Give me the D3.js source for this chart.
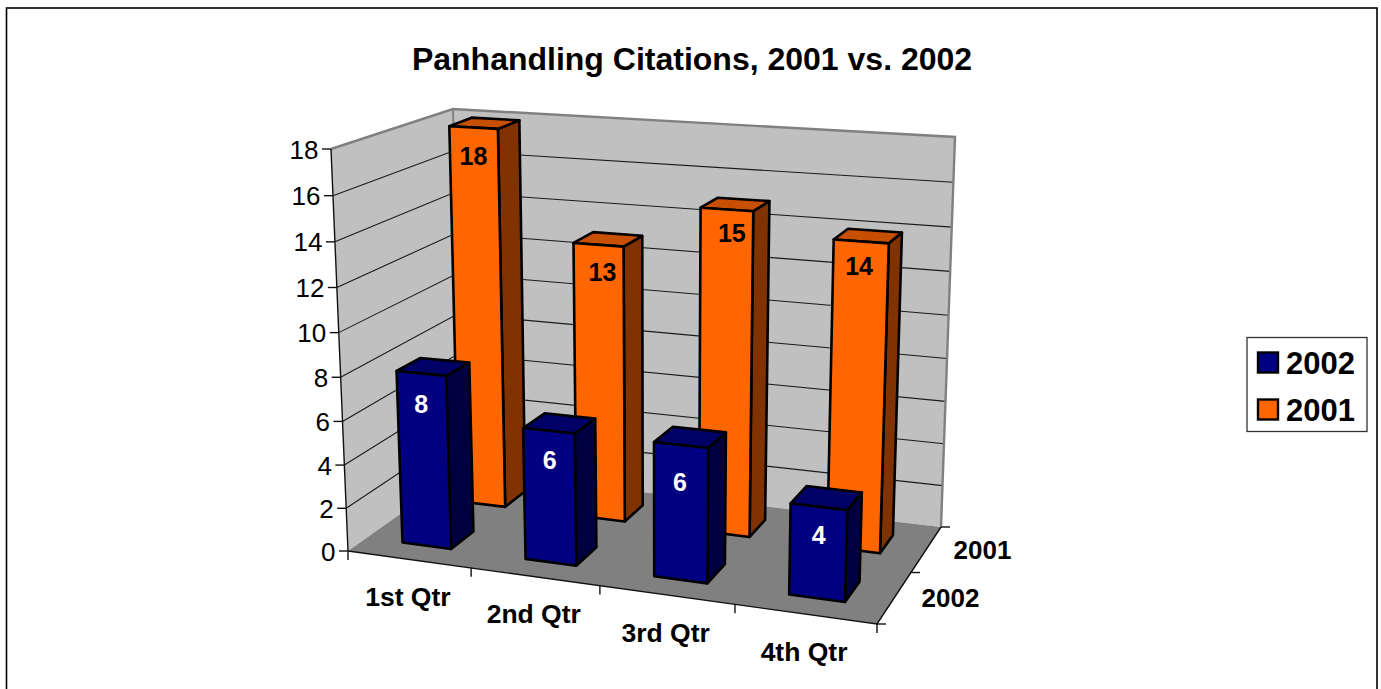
<!DOCTYPE html>
<html><head><meta charset="utf-8">
<script src="https://cdn.jsdelivr.net/npm/d3@7"></script>
<style>html,body{margin:0;padding:0;background:#fff;overflow:hidden}svg{display:block}text{font-family:"Liberation Sans",Arial,sans-serif;fill:#000}</style>
</head><body><svg id="c" width="1381" height="689"></svg>
<script>
const chartTitle = "Panhandling Citations, 2001 vs. 2002";
const categories = ["1st Qtr","2nd Qtr","3rd Qtr","4th Qtr"];
const seriesNames = ["2002","2001"];
const values2002 = [8,6,6,4];
const values2001 = [18,13,15,14];
const yTickValues = [0,2,4,6,8,10,12,14,16,18];

// Projection of the chart box: anchors
const floorAnchors = [[0,0,348,551],[1,0,877,624],[1,1,941,527],[0,1,461,471]];
const topAnchors = [[0,0,331,149],[0,1,453,109],[1,1,955,137]];
// Label placement tweaks (dx,dy) per series and category
const labelNudge = {"2002":[[0,3],[1,1],[-1,9],[0,0]],"2001":[[0,2],[4,1],[5,-2],[-2,-1]]};

function solve(A,b){
  const n=A[0].length, M=A.map((r,i)=>[...r,b[i]]);
  for(let i=0;i<n;i++){
    let p=i; for(let r=i+1;r<n;r++) if(Math.abs(M[r][i])>Math.abs(M[p][i])) p=r;
    [M[i],M[p]]=[M[p],M[i]];
    for(let r=0;r<n;r++){ if(r===i) continue; const f=M[r][i]/M[i][i]; for(let c=i;c<=n;c++) M[r][c]-=f*M[i][c]; }
  }
  return M.map((r,i)=>r[n]/r[i]);
}
const hA=[],hB=[];
floorAnchors.forEach(([x,z,u,v])=>{
  hA.push([x,z,1,0,0,0,-u*x,-u*z]);hB.push(u);
  hA.push([0,0,0,x,z,1,-v*x,-v*z]);hB.push(v);
});
const H=solve(hA,hB);
const base=(x,z)=>[H[0]*x+H[1]*z+H[2],H[3]*x+H[4]*z+H[5],H[6]*x+H[7]*z+1];
const cA=[],cB=[];
topAnchors.forEach(([x,z,u,v])=>{
  const [a,b,w]=base(x,z);
  cA.push([1,0,-u]);cB.push(u*w-a);
  cA.push([0,1,-v]);cB.push(v*w-b);
});
const nA=[0,1,2].map(i=>[0,1,2].map(j=>d3.sum(cA,r=>r[i]*r[j])));
const nB=[0,1,2].map(i=>d3.sum(cA,(r,k)=>r[i]*cB[k]));
const C=solve(nA,nB);
function P0(x,h,z){
  const [a,b,w]=base(x,z);
  const d=w+h*C[2];
  return [(a+h*C[0])/d,(b+h*C[1])/d];
}
const resid=topAnchors.map(([x,z,u,v])=>{const p=P0(x,1,z);return [u-p[0],v-p[1]];});
function P(x,h,z){
  const p=P0(x,h,z);
  const q=[0,1].map(k=>p[k]+h*((1-z)*(1-x)*resid[0][k]+z*(1-x)*resid[1][k]+z*x*resid[2][k]));
  q[0]+=10*x*(1-x);
  q[1]+=10*h*z*(1-z);
  return q;
}

const xBand=d3.scaleBand().domain(categories).range([0,1]).paddingInner(.6).paddingOuter(.3);
const zBand=d3.scaleBand().domain(seriesNames).range([0,1]).paddingInner(.6).paddingOuter(.3);
const xOuter=d3.scaleBand().domain(categories).range([0,1]);
const zOuter=d3.scaleBand().domain(seriesNames).range([0,1]);
const y=d3.scaleLinear().domain([0,18]).range([0,1]);

const svg=d3.select("#c");
const line=d3.line();
const poly=pts=>line(pts)+"Z";

svg.append("rect").attr("x",6.5).attr("y",8).attr("width",1370.5).attr("height",720).attr("fill","#fff").attr("stroke","#000").attr("stroke-width",1.6);

svg.append("text").attr("x",692).attr("y",70).attr("text-anchor","middle")
  .attr("font-size",32).attr("font-weight","bold").text(chartTitle);

svg.append("path").attr("d",poly([P(0,0,0),P(0,1,0),P(0,1,1),P(0,0,1)])).attr("fill","#c0c0c0");
svg.append("path").attr("d",poly([P(0,0,1),P(0,1,1),P(1,1,1),P(1,0,1)])).attr("fill","#c0c0c0");
svg.append("path").attr("d",poly([P(0,0,0),P(1,0,0),P(1,0,1),P(0,0,1)])).attr("fill","#808080");
yTickValues.slice(1,-1).forEach(t=>{
  const h=y(t);
  svg.append("path").attr("d",line([P(0,h,0),P(0,h,1),P(1,h,1)])).attr("fill","none").attr("stroke","#1a1a1a").attr("stroke-width",1.1);
});
svg.append("path").attr("d",line([P(0,1,0),P(0,1,1),P(1,1,1),P(1,0,1)])).attr("fill","none").attr("stroke","#808080").attr("stroke-width",2.4);
svg.append("path").attr("d",line([P(0,1,1),P(0,0,1)])).attr("fill","none").attr("stroke","#808080").attr("stroke-width",2);

const axisStroke=s=>s.attr("fill","none").attr("stroke","#111").attr("stroke-width",1.4);
svg.append("path").attr("d",line([P(0,0,0),P(0,1,0)])).call(axisStroke);
svg.append("path").attr("d",line([P(0,0,0),P(1,0,0),P(1,0,1)])).call(axisStroke);
yTickValues.forEach(t=>{
  const [u,v]=P(0,y(t),0);
  svg.append("path").attr("d",line([[u-9,v],[u,v]])).call(axisStroke);
  svg.append("text").attr("x",u-12.5).attr("y",v).attr("dy",9.5).attr("text-anchor","end").attr("font-size",26).text(t);
});
d3.range(categories.length+1).forEach(i=>{
  const [u,v]=P(i/categories.length,0,0);
  svg.append("path").attr("d",line([[u,v],[u,v+9]])).call(axisStroke);
});
d3.range(seriesNames.length+1).forEach(i=>{
  const [u,v]=P(1,0,i/seriesNames.length);
  svg.append("path").attr("d",line([[u,v],[u+9,v]])).call(axisStroke);
});
categories.forEach(c=>{
  const [u,v]=P(xOuter(c)+xOuter.bandwidth()/2,0,0);
  svg.append("text").attr("x",u-1).attr("y",v+38).attr("dy",9).attr("text-anchor","middle")
    .attr("font-size",26.5).attr("font-weight","bold").text(c);
});
seriesNames.forEach(s=>{
  const [u,v]=P(1,0,zOuter(s)+zOuter.bandwidth()/2);
  svg.append("text").attr("x",u+56).attr("y",v+1).attr("dy",9).attr("text-anchor","middle")
    .attr("font-size",26).attr("font-weight","bold").text(s);
});

const styles={"2001":{front:"#ff6600",side:"#803300",top:"#c65000",label:"#000",off:26},
              "2002":{front:"#000080",side:"#000040",top:"#000066",label:"#fff",off:28}};
const seriesValues={"2002":values2002,"2001":values2001};
["2001","2002"].forEach(s=>{
  const st=styles[s], z0=zBand(s), z1=z0+zBand.bandwidth();
  categories.forEach((c,i)=>{
    const v=seriesValues[s][i], h=y(v), x0=xBand(c), x1=x0+xBand.bandwidth();
    const g=svg.append("g").attr("stroke","#000").attr("stroke-width",2.6).attr("stroke-linejoin","round");
    g.append("path").attr("fill",st.side).attr("d",poly([P(x1,0,z0),P(x1,h,z0),P(x1,h,z1),P(x1,0,z1)]));
    g.append("path").attr("fill",st.top).attr("d",poly([P(x0,h,z0),P(x1,h,z0),P(x1,h,z1),P(x0,h,z1)]));
    g.append("path").attr("fill",st.front).attr("d",poly([P(x0,0,z0),P(x1,0,z0),P(x1,h,z0),P(x0,h,z0)]));
    const [u,w]=P((x0+x1)/2,h,z0);
    const [dx,dy]=labelNudge[s][i];
    svg.append("text").attr("x",u+dx).attr("y",w+st.off+dy).attr("dy",9).attr("text-anchor","middle")
      .attr("font-size",25).attr("font-weight","bold").style("fill",st.label).text(v);
  });
});

const legend=svg.append("g");
legend.append("rect").attr("x",1247).attr("y",337.5).attr("width",120).attr("height",94).attr("fill","#fff").attr("stroke","#333").attr("stroke-width",1.3);
const legendY=d3.scalePoint().domain(seriesNames).range([362.5,409.5]);
seriesNames.forEach(s=>{
  const m=legendY(s);
  legend.append("rect").attr("x",1258).attr("y",m-10).attr("width",20).attr("height",20).attr("fill",styles[s].front).attr("stroke","#000").attr("stroke-width",2.4);
  legend.append("text").attr("x",1286).attr("y",m+11).attr("font-size",31).attr("font-weight","bold").text(s);
});
</script></body></html>
